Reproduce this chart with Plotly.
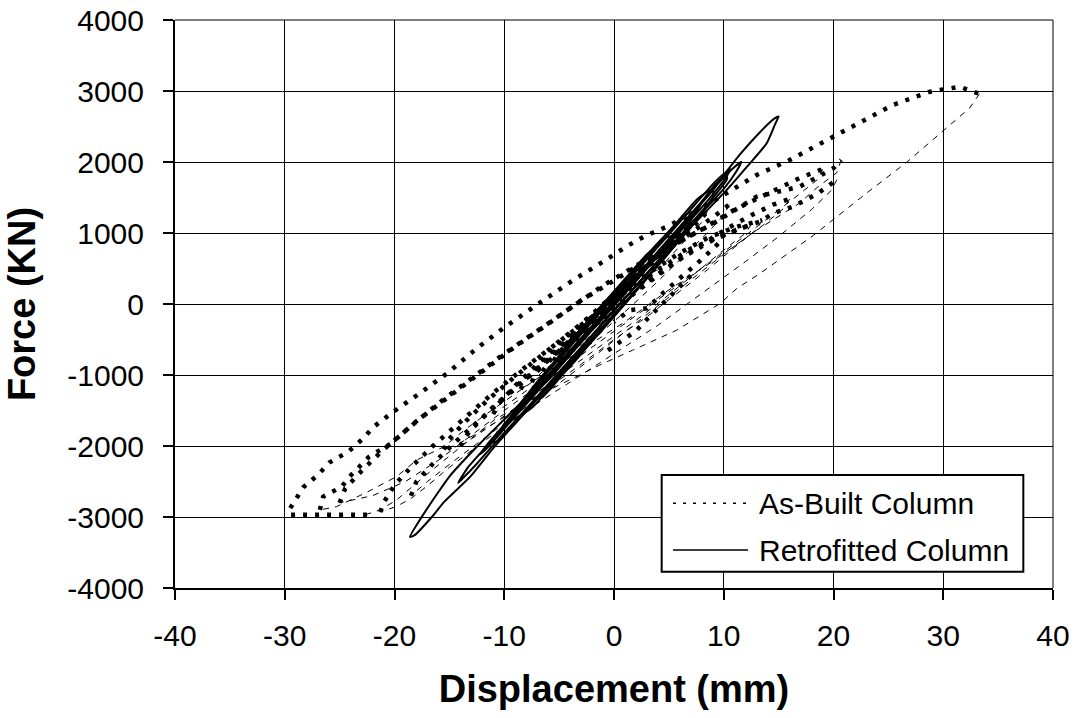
import plotly.graph_objects as go

# ---------------- As-Built column: (displacement mm, force kN) ----------------
# loading branches (densely sampled readings)
ab_load_a = [(-22.5, -2970), (-26.0, -2975), (-29.5, -2970), (-29.6, -2900), (-28.9, -2730),
             (-28.3, -2580), (-27.0, -2410), (-25.9, -2230), (-24.2, -2080), (-22.9, -1900),
             (-21.9, -1730), (-20.1, -1517), (-17.7, -1258), (-15.2, -976), (-12.5, -624),
             (-10.1, -342), (-6.4, 56), (-3.7, 338), (-1.0, 596), (1.1, 807), (2.7, 948),
             (4.8, 1089), (7.2, 1277), (10.3, 1559), (13.0, 1817), (16.0, 2028), (19.4, 2310),
             (22.4, 2568), (25.4, 2803), (28.8, 2990), (31.5, 3060), (33.3, 2960)]
ab_load_b = [(-26.8, -2900), (-26.5, -2714), (-24.8, -2573), (-24.1, -2432), (-22.3, -2150),
             (-20.3, -1963), (-18.0, -1650), (-15.0, -1300), (-12.0, -950), (-9.0, -600),
             (-6.0, -280), (-3.0, 50), (0.0, 330), (3.0, 620), (6.0, 880), (9.0, 1130),
             (13.0, 1512), (16.9, 1652), (20.0, 1911), (20.7, 2028)]
ab_load_b2 = [(-25.0, -2800), (-24.5, -2600), (-23.0, -2350), (-21.0, -2050), (-18.5, -1720),
              (-16.0, -1400), (-13.0, -1050), (-10.0, -700), (-7.0, -380), (-4.0, -60),
              (-1.0, 260), (2.0, 540), (5.0, 800), (8.0, 1050), (11.0, 1330), (14.0, 1560),
              (17.0, 1780), (19.0, 1900)]
ab_load_c = [(-21.3, -2930), (-21.0, -2800), (-20.0, -2550), (-18.5, -2300), (-16.5, -2000),
             (-14.0, -1650), (-11.0, -1250), (-8.0, -880), (-5.0, -520), (-2.0, -180),
             (1.0, 150), (4.0, 480), (7.0, 780), (10.3, 1000), (11.5, 1066), (13.3, 1159),
             (14.5, 1277), (16.3, 1371), (18.5, 1550), (20.3, 1750)]
ab_load_c2 = [(-18.5, -2700), (-18.0, -2500), (-16.5, -2250), (-14.5, -1950), (-12.0, -1600),
              (-9.5, -1250), (-7.0, -920), (-4.5, -600), (-2.0, -300), (0.5, 0), (3.0, 300),
              (5.5, 580), (8.0, 840), (10.5, 1080), (12.5, 1250), (14.5, 1400), (16.0, 1480)]
ab_load_d = [(-15.5, -2050), (-15.0, -1900), (-13.5, -1650), (-11.5, -1350), (-9.0, -1020),
             (-6.5, -700), (-4.0, -400), (-1.5, -100), (1.0, 200), (3.5, 470), (6.0, 720),
             (8.5, 930), (11.0, 1080), (13.5, 1180)]
ab_load_d2 = [(-14.0, -2000), (-13.2, -1800), (-11.0, -1450), (-8.5, -1100), (-6.0, -780),
              (-3.5, -470), (-1.0, -170), (1.5, 130), (4.0, 420), (6.5, 680), (9.0, 900),
              (11.5, 1060), (12.5, 1120)]
ab_load_e = [(-11.0, -1550), (-10.5, -1400), (-9.0, -1150), (-7.0, -850), (-5.0, -560),
             (-3.0, -280), (-1.0, 0), (1.0, 270), (3.0, 530), (5.0, 770), (7.0, 1000),
             (9.0, 1220), (10.5, 1400)]
ab_load_f = [(-8.5, -1200), (-8.0, -1050), (-6.5, -820), (-5.0, -600), (-3.0, -320),
             (-1.0, -40), (1.0, 240), (3.0, 520), (5.0, 790), (7.0, 1050), (8.5, 1300)]
ab_load_j = [(-7.5, -1100), (-7.0, -950), (-5.5, -700), (-4.0, -480), (-2.5, -250), (-1.0, -20),
             (0.5, 200), (2.0, 420), (3.5, 640), (5.0, 850), (6.5, 1050), (7.5, 1180)]
ab_load_g = [(-6.5, -950), (-6.0, -820), (-4.5, -580), (-3.0, -350), (-1.5, -120), (0.0, 100),
             (1.5, 330), (3.0, 550), (4.5, 760), (6.5, 1050)]
ab_load_k = [(-5.5, -800), (-5.0, -680), (-3.5, -450), (-2.0, -220), (-0.5, 10), (1.0, 240),
             (2.5, 460), (4.0, 680), (5.5, 900)]
ab_load_h = [(-4.5, -650), (-4.0, -530), (-3.0, -360), (-1.5, -120), (0.0, 110), (1.5, 330),
             (3.0, 540), (4.5, 750)]
ab_load_l = [(-3.5, -520), (-3.0, -420), (-2.0, -260), (-1.0, -90), (0.0, 80), (1.0, 250),
             (2.0, 420), (3.5, 620)]
ab_load_i = [(-2.5, -380), (-2.0, -280), (-1.0, -110), (0.0, 70), (1.0, 230), (2.5, 420)]
# reversal legs starting from the unloaded state on the positive side
ab_load_m = [(9.5, 850), (8.5, 700), (7.5, 560), (6.5, 430), (5.5, 300), (4.5, 160), (3.0, -60),
             (1.5, -85), (0.0, -250)]
ab_load_n = [(7.0, 400), (6.0, 250), (5.0, 100), (4.0, -50), (3.1, -200), (2.0, -380),
             (0.5, -535), (-1.0, -700)]

# unloading branches (sparse readings)
ab_unload_a = [(33.3, 2960), (32.4, 2760), (30.6, 2520), (26.7, 2000), (23.0, 1560), (18.2, 970),
               (13.3, 430), (11.2, 220), (9.7, 10), (5.7, -370), (1.7, -650), (-1.3, -860),
               (-5.5, -1180), (-10.8, -1620), (-14.5, -2080), (-17.3, -2430), (-19.8, -2760),
               (-21.3, -2900), (-22.5, -2960)]
ab_unload_b = [(20.7, 2028), (20.3, 1850), (18.5, 1640), (16.9, 1420), (13.0, 1040), (9.0, 600),
               (5.0, 200), (1.0, -250), (-3.0, -650), (-7.0, -1050), (-11.0, -1480),
               (-13.5, -1760), (-15.5, -2010), (-18.0, -2200), (-19.8, -2430), (-22.5, -2650),
               (-25.3, -2855), (-26.8, -2900)]
ab_unload_b2 = [(19.0, 1900), (18.6, 1760), (17.0, 1560), (14.0, 1200), (11.0, 850), (7.5, 450),
                (4.0, 60), (0.5, -330), (-3.0, -720), (-6.5, -1100), (-10.0, -1500),
                (-13.0, -1850), (-16.0, -2200), (-19.0, -2500), (-22.0, -2700), (-25.0, -2800)]
ab_unload_c = [(20.3, 1750), (19.8, 1600), (18.0, 1330), (15.0, 950), (12.0, 600), (8.0, 150),
               (4.0, -300), (0.0, -700), (-4.0, -1100), (-8.0, -1500), (-12.0, -1950),
               (-15.0, -2300), (-17.0, -2560), (-18.5, -2740), (-19.8, -2850), (-21.3, -2930)]
ab_unload_c2 = [(16.0, 1480), (15.5, 1350), (13.5, 1100), (10.5, 760), (7.5, 400), (4.5, 40),
                (1.5, -330), (-1.5, -700), (-4.5, -1060), (-8.0, -1450), (-11.5, -1850),
                (-14.5, -2200), (-17.0, -2500), (-18.5, -2700)]
ab_unload_d = [(13.5, 1180), (13.0, 1050), (11.0, 800), (8.5, 480), (6.0, 180), (3.0, -180),
               (0.0, -500), (-3.0, -850), (-6.0, -1180), (-9.0, -1500), (-12.0, -1780),
               (-14.3, -1980), (-15.5, -2050)]
ab_unload_d2 = [(12.5, 1120), (12.0, 1000), (10.0, 760), (7.5, 440), (5.0, 130), (2.0, -230),
                (-1.0, -560), (-4.0, -900), (-7.0, -1250), (-10.0, -1580), (-12.5, -1850),
                (-14.0, -2000)]
ab_unload_e = [(10.5, 1400), (10.0, 1250), (8.5, 1000), (6.5, 700), (4.0, 320), (1.5, -40),
               (-1.0, -380), (-3.5, -700), (-6.0, -1000), (-8.5, -1280), (-11.0, -1550)]
ab_unload_f = [(8.5, 1300), (8.0, 1150), (6.5, 900), (4.5, 560), (2.5, 250), (0.5, -80),
               (-1.5, -380), (-3.5, -650), (-5.5, -900), (-7.5, -1100), (-8.5, -1200)]
ab_unload_j = [(7.5, 1180), (7.0, 1050), (5.5, 800), (3.5, 480), (1.5, 160), (-0.5, -160),
               (-2.5, -450), (-4.5, -700), (-6.5, -950), (-7.5, -1100)]
ab_unload_g = [(6.5, 1050), (6.0, 900), (4.5, 620), (3.0, 370), (1.5, 120), (0.0, -130),
               (-1.5, -360), (-3.0, -560), (-4.5, -740), (-6.5, -950)]
ab_unload_k = [(5.5, 900), (5.0, 760), (3.5, 500), (2.0, 250), (0.5, 0), (-1.0, -240),
               (-2.5, -450), (-4.0, -640), (-5.5, -800)]
ab_unload_h = [(4.5, 750), (4.0, 600), (3.0, 410), (1.5, 160), (0.0, -90), (-1.5, -300),
               (-3.0, -480), (-4.5, -650)]
ab_unload_l = [(3.5, 620), (3.0, 500), (2.0, 320), (1.0, 150), (0.0, -30), (-1.0, -190),
               (-2.0, -330), (-3.5, -520)]
ab_unload_i = [(2.5, 420), (2.0, 300), (1.0, 120), (0.0, -70), (-1.0, -220), (-2.5, -380)]

# ---------------- Retrofitted column: closed hysteresis loops ----------------
rf_loop_1 = [(-18.6, -3280), (-17.4, -2970), (-15.0, -2430), (-12.5, -2010), (-9.5, -1550),
             (-6.0, -1000), (-3.0, -500), (0.0, 0), (3.0, 560), (6.0, 1090), (9.0, 1620),
             (11.5, 2110), (13.3, 2420), (14.6, 2610), (15.0, 2640), (14.7, 2540), (13.9, 2260),
             (12.1, 1930), (10.3, 1610), (7.0, 1080), (4.0, 540), (1.0, 20), (-2.0, -490),
             (-5.0, -1000), (-8.0, -1510), (-11.0, -2030), (-13.1, -2432), (-15.5, -2790),
             (-16.6, -3000), (-18.2, -3260), (-18.6, -3280)]
rf_loop_2 = [(-14.2, -2520), (-13.3, -2300), (-11.0, -1900), (-8.0, -1380), (-5.0, -850),
             (-2.0, -330), (1.0, 190), (4.0, 720), (7.0, 1250), (9.5, 1700), (10.9, 1920),
             (11.6, 2004), (11.2, 1880), (10.0, 1620), (7.5, 1200), (4.5, 690), (1.5, 170),
             (-1.5, -350), (-4.5, -870), (-7.5, -1390), (-10.5, -1900), (-12.5, -2250),
             (-13.8, -2460), (-14.2, -2520)]
rf_loop_3 = [(-12.2, -2120), (-11.4, -1950), (-9.0, -1530), (-6.0, -1010), (-3.0, -490), (0.0, 30),
             (3.0, 550), (6.0, 1070), (8.7, 1560), (10.1, 1820), (10.6, 1900), (10.2, 1780),
             (8.5, 1450), (5.5, 930), (2.5, 410), (-0.5, -110), (-3.5, -630), (-6.5, -1150),
             (-9.5, -1670), (-11.5, -2020), (-12.2, -2120)]
rf_loop_4 = [(-10.4, -1800), (-9.6, -1640), (-7.0, -1180), (-4.0, -660), (-1.0, -140), (2.0, 380),
             (5.0, 900), (8.0, 1440), (9.2, 1680), (9.6, 1750), (9.1, 1620), (7.0, 1250),
             (4.0, 730), (1.0, 210), (-2.0, -310), (-5.0, -830), (-8.0, -1360), (-9.9, -1710),
             (-10.4, -1800)]
rf_loop_5 = [(-8.5, -1480), (-7.8, -1330), (-5.0, -850), (-2.0, -330), (1.0, 190), (4.0, 710),
             (6.8, 1220), (8.0, 1430), (7.5, 1300), (5.0, 860), (2.0, 340), (-1.0, -180),
             (-4.0, -700), (-7.0, -1220), (-8.5, -1480)]
rf_loop_6 = [(-6.5, -1140), (-5.8, -990), (-3.0, -510), (0.0, 10), (3.0, 530), (5.2, 920),
             (6.0, 1080), (5.5, 950), (3.0, 520), (0.0, -10), (-3.0, -530), (-5.8, -1040),
             (-6.5, -1140)]
rf_loop_7 = [(-4.5, -790), (-3.8, -650), (-1.0, -160), (2.0, 360), (4.2, 760), (3.6, 620),
             (1.0, 170), (-2.0, -350), (-4.5, -790)]
rf_loop_8 = [(-2.5, -440), (-1.8, -300), (0.0, 20), (2.3, 420), (1.8, 300), (0.0, -20),
             (-2.5, -440)]
rf_loop_9 = [(-11.0, -1950), (-10.3, -1760), (-7.7, -1250), (-4.9, -760), (-2.0, -250), (0.9, 260),
             (3.8, 770), (6.7, 1280), (9.2, 1720), (10.2, 1850), (10.3, 1760), (8.4, 1380),
             (5.5, 870), (2.6, 360), (-0.3, -150), (-3.2, -660), (-6.1, -1170), (-9.0, -1680),
             (-10.6, -1930), (-11.0, -1950)]
rf_loop_10 = [(-9.5, -1650), (-9.0, -1500), (-6.6, -1020), (-3.8, -530), (-0.9, -20), (2.0, 490),
              (4.9, 1000), (7.6, 1480), (9.0, 1620), (9.0, 1500), (7.1, 1100), (4.2, 590),
              (1.3, 80), (-1.6, -430), (-4.5, -940), (-7.4, -1450), (-9.1, -1620), (-9.5, -1650)]
rf_loop_11 = [(-7.5, -1330), (-7.0, -1150), (-4.6, -650), (-1.8, -160), (1.1, 350), (4.0, 860),
              (6.5, 1250), (7.2, 1300), (7.0, 1170), (5.0, 720), (2.1, 210), (-0.8, -300),
              (-3.7, -810), (-6.6, -1320), (-7.5, -1330)]
rf_loop_12 = [(-5.5, -980), (-5.0, -810), (-2.5, -260), (0.3, 230), (3.0, 700), (4.8, 940),
              (5.3, 950), (5.1, 820), (3.2, 400), (0.5, -90), (-2.3, -580), (-4.6, -970),
              (-5.5, -980)]

x_ticks = [-40, -30, -20, -10, 0, 10, 20, 30, 40]
y_ticks = [-4000, -3000, -2000, -1000, 0, 1000, 2000, 3000, 4000]


def chain(branches):
    """Join several (x, y) point lists into one path broken by gaps."""
    xs, ys = [], []
    for branch in branches:
        xs += [p[0] for p in branch] + [None]
        ys += [p[1] for p in branch] + [None]
    return xs, ys


FONT = "Liberation Sans, Arial, sans-serif"

load_x, load_y = chain([ab_load_a, ab_load_b, ab_load_b2, ab_load_c, ab_load_c2, ab_load_d,
                        ab_load_d2, ab_load_e, ab_load_f, ab_load_j, ab_load_g, ab_load_k,
                        ab_load_h, ab_load_l, ab_load_i, ab_load_m, ab_load_n])
unload_x, unload_y = chain([ab_unload_a, ab_unload_b, ab_unload_b2, ab_unload_c, ab_unload_c2,
                            ab_unload_d, ab_unload_d2, ab_unload_e, ab_unload_f, ab_unload_j,
                            ab_unload_g, ab_unload_k, ab_unload_h, ab_unload_l, ab_unload_i])
rf_x, rf_y = chain([rf_loop_1, rf_loop_2, rf_loop_3, rf_loop_4, rf_loop_5, rf_loop_6,
                    rf_loop_7, rf_loop_8, rf_loop_9, rf_loop_10, rf_loop_11, rf_loop_12])

fig = go.Figure()
fig.add_trace(go.Scatter(x=unload_x, y=unload_y, mode="lines", name="As-Built Column",
                         legendgroup="ab", showlegend=False,
                         line=dict(color="black", width=1, dash="6px,6px")))
fig.add_trace(go.Scatter(x=load_x, y=load_y, mode="lines", name="As-Built Column",
                         legendgroup="ab", showlegend=False,
                         line=dict(color="black", width=4.5, dash="4px,8px")))
fig.add_trace(go.Scatter(x=rf_x, y=rf_y, mode="lines", name="Retrofitted Column",
                         showlegend=False,
                         line=dict(color="black", width=2, shape="spline", smoothing=0.5)))

axis_common = dict(
    showgrid=True, gridcolor="black", gridwidth=1,
    showline=True, linecolor="black", linewidth=2,
    ticks="outside", ticklen=10, tickwidth=2, tickcolor="black",
    tickfont=dict(family=FONT, size=30, color="black"),
    zeroline=False, mirror=False,
)

fig.update_xaxes(range=[-40, 40], tickvals=x_ticks, ticktext=[str(v) for v in x_ticks],
                 ticklabelstandoff=10,
                 title=dict(text="Displacement (mm)", standoff=24,
                            font=dict(family=FONT, size=38, color="black", weight="bold")),
                 **axis_common)
fig.update_yaxes(range=[-4000, 4000], tickvals=y_ticks, ticktext=[str(v) for v in y_ticks],
                 ticklabelstandoff=13,
                 title=dict(text="Force (KN)", standoff=20,
                            font=dict(family=FONT, size=38, color="black", weight="bold")),
                 **axis_common)

# legend box drawn in paper coordinates
lg_x0, lg_x1, lg_y0, lg_y1 = 0.5543, 0.9662, 0.0287, 0.1989
shapes = [
    dict(type="rect", xref="paper", yref="paper", x0=lg_x0, x1=lg_x1, y0=lg_y0, y1=lg_y1,
         line=dict(color="black", width=2), fillcolor="white", layer="above"),
    dict(type="line", xref="paper", yref="paper", x0=0.5672, x1=0.6526, y0=0.1491, y1=0.1491,
         line=dict(color="black", width=1.5, dash="3px,7px"), layer="above"),
    dict(type="line", xref="paper", yref="paper", x0=0.5672, x1=0.6526, y0=0.0669, y1=0.0669,
         line=dict(color="black", width=1.5), layer="above"),
    # thin top and right frame lines
    dict(type="line", xref="paper", yref="paper", x0=0, x1=1, y0=1, y1=1,
         line=dict(color="black", width=1), layer="below"),
    dict(type="line", xref="paper", yref="paper", x0=1, x1=1, y0=0, y1=1,
         line=dict(color="black", width=1), layer="below"),
]
annotations = [
    dict(xref="paper", yref="paper", x=0.6629, y=0.1491, text="As-Built Column",
         showarrow=False, xanchor="left", yanchor="middle",
         font=dict(family=FONT, size=30, color="black")),
    dict(xref="paper", yref="paper", x=0.6629, y=0.0669, text="Retrofitted Column",
         showarrow=False, xanchor="left", yanchor="middle",
         font=dict(family=FONT, size=30, color="black")),
]

fig.update_layout(
    width=1082, height=718,
    margin=dict(l=175, r=29, t=20, b=130),
    paper_bgcolor="white", plot_bgcolor="white",
    template="none",
    showlegend=False,
    shapes=shapes, annotations=annotations,
    font=dict(family=FONT, color="black"),
)

fig.write_html("out.html")
